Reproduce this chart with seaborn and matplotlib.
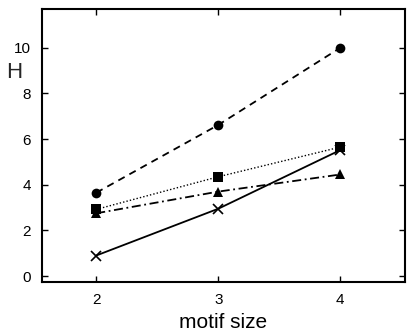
import matplotlib
matplotlib.use("Agg")
import matplotlib.pyplot as plt
import seaborn as sns
import pandas as pd

sns.set_theme(style="ticks")
plt.rcParams['font.family'] = ['Liberation Sans', 'DejaVu Sans']

motif_size = [2, 3, 4]
h_circle = [3.65, 6.62, 10.0]
h_square = [2.92, 4.35, 5.65]
h_triangle = [2.75, 3.70, 4.45]
h_cross = [0.90, 2.95, 5.52]

series = {
    'circle': (h_circle, 'o', (0, (4, 3)), 1.3),
    'square': (h_square, 's', (0, (1, 1.5)), 1.0),
    'triangle': (h_triangle, '^', (0, (5, 2, 1, 2)), 1.3),
    'cross': (h_cross, 'x', '-', 1.3),
}

fig, ax = plt.subplots(figsize=(4.15, 3.31), dpi=100)

for name, (vals, marker, ls, lw) in series.items():
    df = pd.DataFrame({'motif size': motif_size, 'H': vals})
    sns.lineplot(data=df, x='motif size', y='H', ax=ax, color='black',
                 linestyle=ls, linewidth=lw, marker=marker,
                 markersize=7,
                 markeredgewidth=1.2 if marker == 'x' else 0,
                 markerfacecolor='black', markeredgecolor='black')

ax.set_xlim(1.555, 4.53)
ax.set_ylim(-0.26, 11.7)
ax.set_xticks([2, 3, 4])
ax.set_yticks([0, 2, 4, 6, 8, 10])
ax.tick_params(direction='in', top=True, right=True, length=4, width=1,
               labelsize=11, pad=8, colors='black')
for sp in ax.spines.values():
    sp.set_linewidth(1.5)
    sp.set_color('black')

ax.set_xlabel('motif size', fontsize=15, labelpad=4, color='black')
ax.set_ylabel('')
fig.text(0.035, 0.78, 'H', fontsize=16, ha='center', va='center')

fig.subplots_adjust(left=0.101, right=0.976, top=0.973, bottom=0.148)
fig.savefig('out.png', dpi=100)
